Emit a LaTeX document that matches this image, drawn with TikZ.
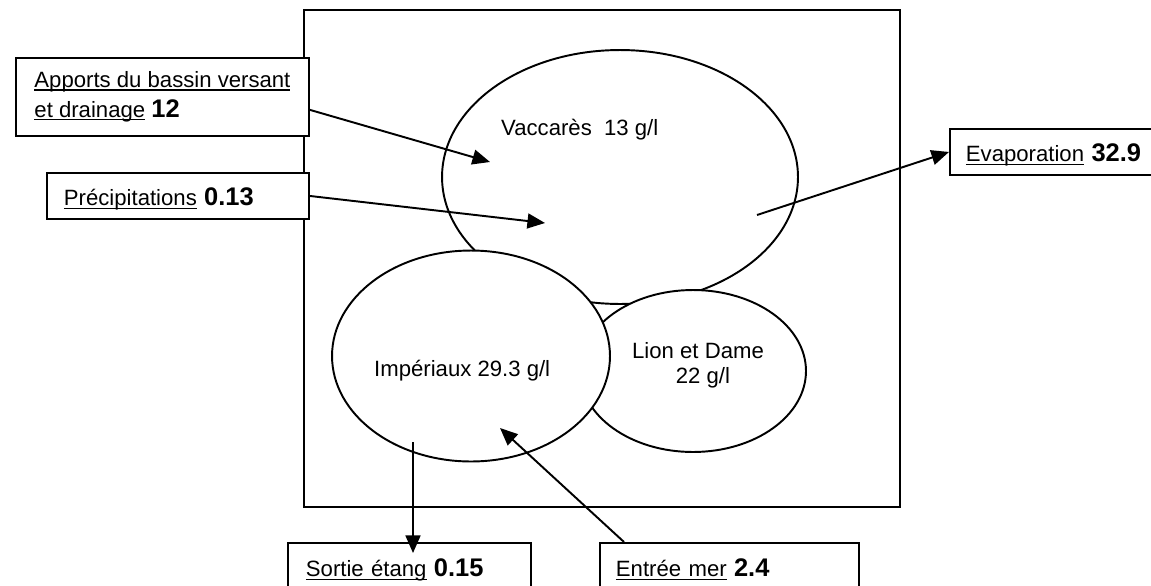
\documentclass[tikz,border=0pt]{standalone}
\usepackage{fontspec}
\setmainfont{Liberation Sans}
\usetikzlibrary{arrows.meta,shapes.geometric}
\newsavebox{\soulbox}
\newcommand{\souligne}[1]{\sbox{\soulbox}{#1}\rlap{\rule[-0.13em]{\wd\soulbox}{0.055em}}\usebox{\soulbox}}
\newcommand{\debit}[1]{{\fontsize{14.5}{17}\selectfont\bfseries #1}}

\tikzset{
  lac/.style={draw, fill=white, ellipse, inner sep=0pt, line width=1.1pt},
  fluxbox/.style={draw, fill=white, anchor=north west, align=left, inner ysep=0pt, line width=1.1pt},
  oneline/.style={text height=0.66cm, text depth=0.26cm},
  flux/.style={-{Triangle[length=10pt,width=8.5pt]}, line width=1.1pt},
}

\begin{document}
\begin{tikzpicture}[x=0.02cm, y=-0.02cm, font=\fontsize{12.6}{17}\selectfont]
\useasboundingbox (0,0) rectangle (1151,585);

% cadre
\draw[line width=1.2pt] (304,10) rectangle (900,507);

% etangs
\node[lac, minimum width=7.12cm, minimum height=5.08cm] (vac) at (620,177) {};
\node[lac, minimum width=4.52cm, minimum height=3.24cm] (lion) at (693,371) {};
\node[lac, minimum width=5.56cm, minimum height=4.22cm] (imp) at (471,356) {};
\node[anchor=base west] (vacTxt) at (495,135) {Vaccarès~~13 g/l};
\node[anchor=base west] (impTxt) at (368,376) {Impériaux 29.3 g/l};
\node[anchor=base] (lionTxt) at (698,358) {Lion et Dame};
\node[anchor=base] (lionSal) at (703,383) {22 g/l};

% bilans
\node[fluxbox, minimum width=5.86cm, minimum height=1.56cm, inner xsep=0.34cm] (apports) at (15,57)
  {\souligne{Apports du bassin versant}\\ \souligne{et drainage} \debit{12}};
\node[fluxbox, oneline, inner xsep=0.34cm, text width=4.56cm] (precip) at (46,172)
  {\souligne{Précipitations} \debit{0.13}};
\node[fluxbox, oneline, inner xsep=0.32cm, text width=4.2cm] (evap) at (949,128)
  {\souligne{Evaporation} \debit{32.9}};
\node[fluxbox, oneline, text height=0.68cm, text depth=0.6cm, inner xsep=0.36cm, text width=4.14cm] (sortie) at (287,542)
  {\souligne{Sortie étang} \debit{0.15}};
\node[fluxbox, oneline, text height=0.68cm, text depth=0.6cm, inner xsep=0.32cm, text width=4.54cm] (entree) at (599,542)
  {\souligne{Entrée mer} \debit{2.4}};

% fleches
\coordinate (vacIn1) at (490,162);
\coordinate (vacIn2) at (545,223);
\coordinate (vacOut) at (757,215);
\coordinate (impOut) at (413,442);
\coordinate (sortieIn) at (413,553);
\coordinate (entreeOut) at (624,542);
\coordinate (impIn) at (500,428);
\draw[flux] (apports.-5.5) -- (vacIn1);
\draw[flux] (precip.east) -- (vacIn2);
\draw[flux] (vacOut) -- (evap.west);
\draw[flux] (impOut) -- (sortieIn);
\draw[flux] (entreeOut) -- (impIn);
\end{tikzpicture}
\end{document}
